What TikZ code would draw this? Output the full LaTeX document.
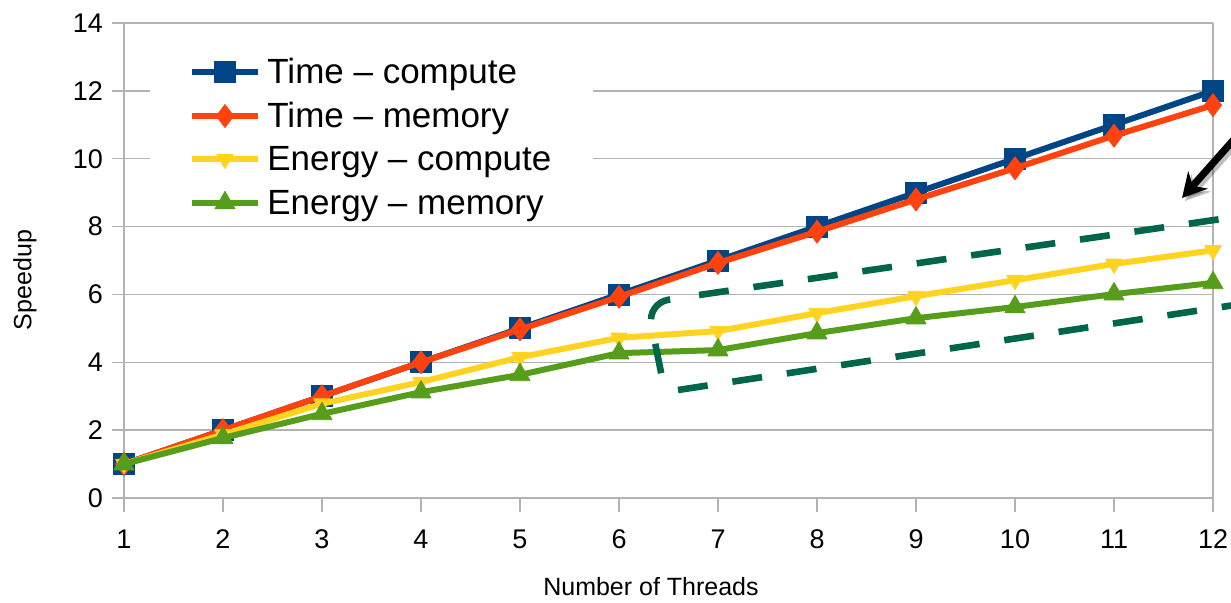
\documentclass[tikz,border=0pt]{standalone}
\usepackage{fontspec}
\setmainfont{Liberation Sans}
\usetikzlibrary{arrows.meta, plotmarks, positioning}
\definecolor{SeriesBlue}  {HTML}{004586}
\definecolor{SeriesOrange}{HTML}{FF420E}
\definecolor{SeriesYellow}{HTML}{FFD320}
\definecolor{SeriesGreen} {HTML}{579D1C}
\definecolor{GridGray}    {HTML}{B3B3B3}
\definecolor{BoxGreen}    {HTML}{00664A}
\begin{document}
\begin{tikzpicture}[
		x=0.5pt, y=-0.5pt,
		grid/.style={draw=GridGray, line width=0.7pt},
		series/.style={line width=3pt, line join=round, mark options={solid, line width=0.4pt}},
		timecomp/.style={SeriesBlue, mark=square*, mark size=5.25pt},
		timemem/.style={SeriesOrange, mark=diamond*, mark size=5.75pt},
		energycomp/.style={SeriesYellow, mark=triangle*, mark size=4.8pt,
			mark options={rotate=180, line width=0.4pt}},
		energymem/.style={SeriesGreen, mark=triangle*, mark size=5.8pt},
		ticklabel/.style={font=\fontsize{13.5}{16}\selectfont, inner sep=0pt},
		axistitle/.style={font=\fontsize{12.5}{15}\selectfont, inner sep=0pt},
		legendtext/.style={font=\fontsize{17.5}{21}\selectfont, anchor=base west, inner sep=0pt},
		hint/.style={draw=BoxGreen, line width=3.3pt, dash pattern=on 15pt off 12.5pt},
		]
		\useasboundingbox (0,0) rectangle (1231,602);
		\clip (0,0) rectangle (1231,602);
		% ── Grid, axes and tick labels (data units) ─────────────────────────────────
		\begin{scope}[shift={(12.5pt,-249pt)}, x=49.5pt, y=16.964pt]
			\foreach \v in {0,2,...,14} {
				\draw[grid] (0.879,\v) -- (12,\v);
				\node[ticklabel, anchor=east] (ylab\v) at (0.79,\v) {\v};
			}
			\draw[grid] (1,0) -- (1,14);
			\draw[grid] (12,0) -- (12,14);
			\foreach \t in {1,...,12} {
				\draw[grid] (\t,0) -- (\t,-0.41);
				\node[ticklabel] (xlab\t) at (\t,-1.21) {\t};
			}
		\end{scope}
		% ── Legend background hides the grid ─────────────────────────────────────────
		\fill[white] (150,42) rectangle (593,224);
		% ── Series ───────────────────────────────────────────────────────────────────
		\begin{scope}[shift={(12.5pt,-249pt)}, x=49.5pt, y=16.964pt]
			\draw[series, timecomp] plot coordinates {(1,1) (2,2) (3,3) (4,4) (5,5) (6,6)
				(7,7) (8,8) (9,9) (10,10) (11,11) (12,12)};
			\draw[series, timemem] plot coordinates {(1,1) (2,2) (3,3) (4,4) (5,4.97) (6,5.93)
				(7,6.93) (8,7.85) (9,8.8) (10,9.72) (11,10.68) (12,11.58)};
			\draw[series, energycomp] plot coordinates {(1,1) (2,1.87) (3,2.78) (4,3.42) (5,4.15) (6,4.72)
				(7,4.92) (8,5.45) (9,5.95) (10,6.42) (11,6.9) (12,7.3)};
			\draw[series, energymem] plot coordinates {(1,1) (2,1.77) (3,2.48) (4,3.12) (5,3.63) (6,4.27)
				(7,4.36) (8,4.86) (9,5.3) (10,5.63) (11,6.01) (12,6.34)};
		\end{scope}
		% ── Legend ───────────────────────────────────────────────────────────────────
		\foreach \s/\y/\b/\txt in {timecomp/72/83/Time – compute, timemem/116/127/Time – memory,
			energycomp/159/170/Energy – compute, energymem/203/214/Energy – memory} {
			\draw[series, \s] plot[mark indices={2}] coordinates {(192,\y) (225,\y) (258,\y)};
			\node[legendtext] (leg\s) at (267,\b) {\txt};
		}
		% ── Axis titles ──────────────────────────────────────────────────────────────
		\node[axistitle, rotate=90] (ytitle) at (25,280) {Speedup};
		\node[axistitle] (xtitle) at (651,587) {Number of Threads};
		% ── Dashed highlight round the energy curves ─────────────────────────────────
		\draw[hint, dash phase=21pt] (683,297.5) [rounded corners=11pt]-- (647,303) -- (665,392);
		\draw[hint] (678,390) -- (1300,295);
		\draw[hint] (699,295) -- (1300,207.5);
		% ── Pointer arrow with its shadow ────────────────────────────────────────────
		\coordinate (arrtail) at (1245,127);
		\coordinate (arrtip)  at (1182,198);
		\draw[line width=3.6pt, black, opacity=0.25, -{Stealth[length=12pt, width=13pt]}]
			([xshift=1.5pt, yshift=-1.5pt]arrtail) -- ([xshift=1.5pt, yshift=-1.5pt]arrtip);
		\draw[line width=3.6pt, black, -{Stealth[length=12pt, width=13pt]}] (arrtail) -- (arrtip);
	\end{tikzpicture}
\end{document}
